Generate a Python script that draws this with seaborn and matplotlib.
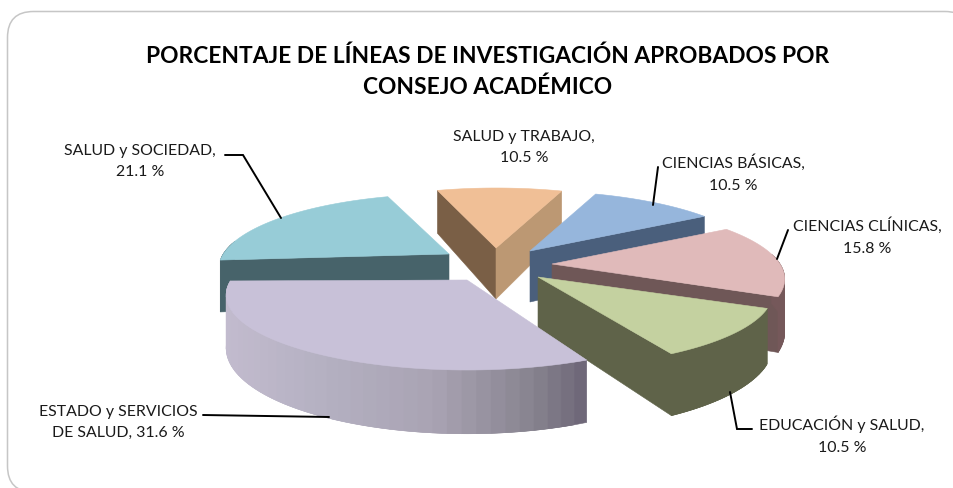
import numpy as np
import matplotlib
matplotlib.use("Agg")
import matplotlib.pyplot as plt
from matplotlib.colors import to_rgb
from matplotlib.patches import Polygon, FancyBboxPatch
import seaborn as sns

# ---- data ----
categories = ["CIENCIAS BÁSICAS", "CIENCIAS CLÍNICAS", "EDUCACIÓN y SALUD",
              "ESTADO y SERVICIOS DE SALUD", "SALUD y SOCIEDAD", "SALUD y TRABAJO"]
values = [10.5, 15.8, 10.5, 31.6, 21.1, 10.5]
title_text = "PORCENTAJE DE LÍNEAS DE INVESTIGACIÓN APROBADOS POR\nCONSEJO ACADÉMICO"

# ---- styles ----
top_colors = ["#96b6dc", "#e0baba", "#c4d1a0", "#c8c1d8", "#97ccd7", "#f0bf96"]
start_face = ["#4a5f7c", "#75585a", "#5f6349", "#6e6678", "#47636a", "#7a5f46"]
end_face = ["#4a5f7c", "#6f5757", "#5f6349", "#c0b8cc", "#47636a", "#bc9873"]
wall_stops = [0.0, 0.15, 0.425, 0.7, 1.0]
wall_colors = [["#4a5f7c"] * 5, ["#75585a"] * 5, ["#5f6349"] * 5,
               ["#6c6576", "#87838f", "#a9a3b3", "#b3afc0", "#c2bbce"],
               ["#47636a"] * 5, ["#7a5f46"] * 5]

# ---- layout (pixels) ----
tips = [(530, 251), (552, 264), (538, 277), (467, 280), (449, 254), (496, 248)]
angle_nudge = [1.0, 1.0, 0.0, 4.0, 0.0, 1.0]
x_scale = [1.0, 1.0, 1.01, 1.035, 0.99, 1.0]
draw_order = [5, 0, 4, 1, 2, 3]
START = 19.0
RX, RY, K, DEPTH = 228.0, 72.0, 0.2, 51.0

sns.set_theme(style="white")
plt.rcParams["font.family"] = ["Lato", "DejaVu Sans"]

fig = plt.figure(figsize=(9.54, 4.88), dpi=100)
ax = fig.add_axes([0, 0, 1, 1])
ax.set_xlim(0, 954)
ax.set_ylim(488, 0)
ax.axis("off")

ax.add_patch(FancyBboxPatch((33.5, 37.5), 911.5, 428.5,
                            boxstyle="round,pad=26,rounding_size=26",
                            fc="white", ec="#c6c6c6", lw=1.1, zorder=0))


def project(tip, t_deg, scale=1.0, lower=False):
    t = np.radians(t_deg)
    u, v = np.sin(t), np.cos(t)
    w = 1 + K * v
    x = tip[0] + scale * RX * u / w
    y = tip[1] - RY * v / w
    if lower:
        y += DEPTH / w
    return np.column_stack([x, y])


def face(points, color, z):
    ax.add_patch(Polygon(points, closed=True, fc=color, ec=color, lw=0.4, zorder=z))


def wall_color(i, frac):
    rgb = np.array([to_rgb(c) for c in wall_colors[i]])
    return tuple(np.interp(frac, wall_stops, rgb[:, k]) for k in range(3))


sweeps = 360 * np.array(values) / np.sum(values)
ends = START + np.cumsum(sweeps) + np.array(angle_nudge)
starts = ends - sweeps

z = 1
for i in draw_order:
    tip = np.array(tips[i], float)
    tip_low = tip + [0, DEPTH]
    s = x_scale[i]
    ts, te = starts[i], ends[i]
    ps, pe = project(tip, ts, s)[0], project(tip, te, s)[0]
    # radial faces, shown only when they turn towards the viewer
    if ps[0] < tip[0]:
        face([tip, ps, project(tip, ts, s, True)[0], tip_low], start_face[i], z)
    if pe[0] > tip[0]:
        face([tip, pe, project(tip, te, s, True)[0], tip_low], end_face[i], z)
    # outer wall: strips overlap the next one so no seams show
    grid = np.linspace(ts, te, 41)
    step = grid[1] - grid[0]
    xs_arc = project(tip, grid, s)[:, 0]
    for a, b in zip(grid[:-1], grid[1:]):
        if np.cos(np.radians((a + b) / 2)) < 0.15:
            span = np.linspace(a, min(b + step, te), 4)
            quad = np.vstack([project(tip, span, s),
                              project(tip, span[::-1], s, True)])
            xm = project(tip, (a + b) / 2, s)[0, 0]
            frac = (xs_arc.max() - xm) / (xs_arc.max() - xs_arc.min())
            face(quad, wall_color(i, frac), z)
    # top face
    arc = project(tip, np.linspace(ts, te, 80), s)
    face(np.vstack([tip, arc]), top_colors[i], z + 0.5)
    z += 1

# ---- leader lines ----
leaders = [([658, 653], [167, 205]), ([788, 777], [230, 259]),
           ([752, 737, 730], [429, 429, 392]), ([203, 329], [415, 417]),
           ([225, 243, 281], [155, 155, 218])]
for xs, ys in leaders:
    ax.plot(xs, ys, color="black", lw=1.4, zorder=20, solid_joinstyle="miter")

# ---- labels ----
label_pos = [(733, 173.5), (867, 236.5), (842, 435.5), (118, 422.5), (140, 161.5), (524, 147.5)]
label_text = ["{},\n{} %", "{},\n{} %", "{},\n{} %", None, "{},\n{} %", "{},\n{} %"]
for i, (px, py) in enumerate(label_pos):
    if label_text[i] is None:
        txt = "ESTADO y SERVICIOS\nDE SALUD, {} %".format(values[i])
    else:
        txt = label_text[i].format(categories[i], values[i])
    ax.text(px, py, txt, ha="center", va="center", fontsize=11.4,
            color="#1a1a1a", linespacing=1.7, zorder=21)

ax.text(488, 72, title_text, ha="center", va="center", fontsize=16.4,
        fontweight="bold", color="black", linespacing=1.55, zorder=21)

fig.savefig("out.png", dpi=100)
